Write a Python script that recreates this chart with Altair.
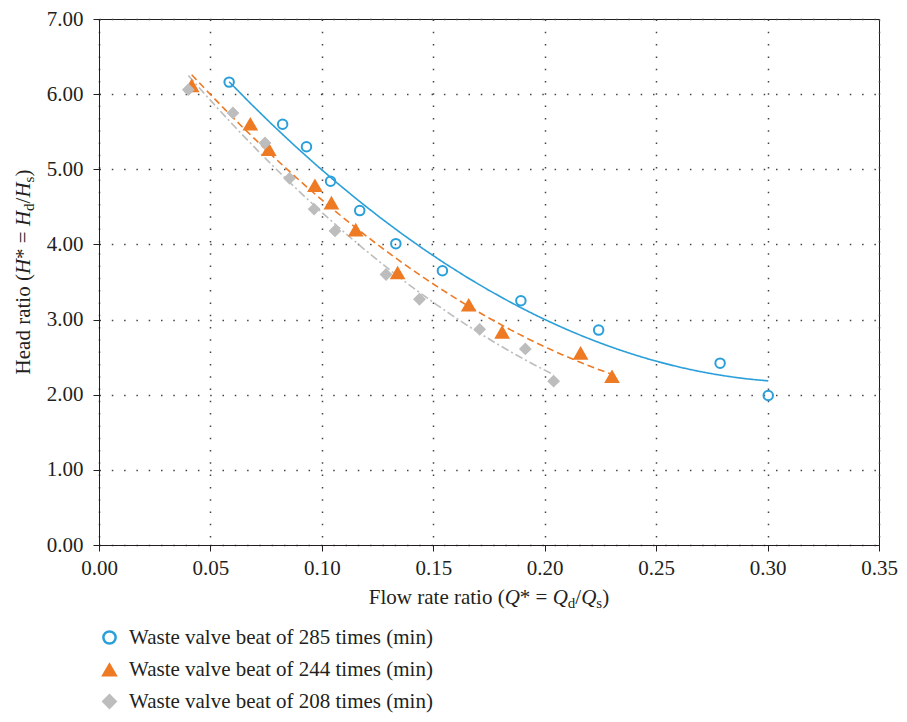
import altair as alt
import pandas as pd

# ---------------- data ----------------
series_names = [
    "Waste valve beat of 285 times (min)",
    "Waste valve beat of 244 times (min)",
    "Waste valve beat of 208 times (min)",
]
q285 = [0.0584, 0.0824, 0.0931, 0.1039, 0.1170, 0.1332, 0.1541, 0.1893, 0.2242, 0.2787, 0.3003]
h285 = [6.16, 5.60, 5.30, 4.84, 4.45, 4.01, 3.65, 3.25, 2.86, 2.42, 1.99]
q244 = [0.0416, 0.0679, 0.0762, 0.0969, 0.1043, 0.1152, 0.1340, 0.1659, 0.1809, 0.2161, 0.2302]
h244 = [6.11, 5.60, 5.26, 4.78, 4.55, 4.19, 3.62, 3.19, 2.83, 2.55, 2.24]
q208 = [0.0401, 0.0601, 0.0745, 0.0855, 0.0965, 0.1059, 0.1288, 0.1438, 0.1708, 0.1913, 0.2040]
h208 = [6.06, 5.75, 5.35, 4.88, 4.47, 4.18, 3.60, 3.27, 2.87, 2.61, 2.18]

x_ticks = [0.0, 0.05, 0.10, 0.15, 0.20, 0.25, 0.30, 0.35]
y_ticks = [0, 1, 2, 3, 4, 5, 6, 7]

rows = []
for name, qs, hs in zip(series_names, [q285, q244, q208], [h285, h244, h208]):
    for q, h in zip(qs, hs):
        rows.append({"series": name, "Q": q, "H": h})
df = pd.DataFrame(rows)

# ---------------- style ----------------
W, H = 780, 526
PAD_L, PAD_T = 91, 11
FONT = "Liberation Serif"
FS = 21
TXT = "#231f20"
colors = ["#2A9FD9", "#EE7A24", "#BDBDBD"]
fills = ["transparent", "#EE7A24", "#BDBDBD"]
shapes = ["circle", "triangle-up", "diamond"]
sizes = [90, 150, 100]
dashes = [[1, 0], [7, 4], [8, 3, 2, 3]]

xsc = alt.Scale(domain=[0, 0.35], nice=False, zero=False)
ysc = alt.Scale(domain=[0, 7], nice=False, zero=False)

legend = alt.Legend(
    title=None, orient="none", legendX=0, legendY=608, direction="vertical",
    labelFont=FONT, labelFontSize=FS, labelColor=TXT, symbolSize=150,
    symbolStrokeWidth=2.5, rowPadding=9.5, labelOffset=9, padding=0, labelLimit=400,
)

x_axis = alt.Axis(values=x_ticks, format=".2f", title=None, labelPadding=6, labelFlush=False)
y_axis = alt.Axis(values=y_ticks, format=".2f", title=None, labelPadding=10, labelFlush=False)

lines = []
for name, col, dash in zip(series_names, colors, dashes):
    lines.append(
        alt.Chart(df)
        .transform_filter(alt.datum.series == name)
        .transform_regression("Q", "H", method="poly", order=2)
        .mark_line(color=col, strokeWidth=1.6, strokeDash=dash)
        .encode(x=alt.X("Q:Q", scale=xsc, axis=x_axis), y=alt.Y("H:Q", scale=ysc, axis=y_axis))
    )

point_layers = []
for name, sz in zip(series_names, sizes):
    point_layers.append(
        alt.Chart(df)
        .transform_filter(alt.datum.series == name)
        .mark_point(strokeWidth=2, opacity=1, size=sz)
        .encode(
            x=alt.X("Q:Q", scale=xsc, axis=x_axis),
            y=alt.Y("H:Q", scale=ysc, axis=y_axis),
            shape=alt.Shape("series:N", scale=alt.Scale(domain=series_names, range=shapes), legend=legend),
            stroke=alt.Stroke("series:N", scale=alt.Scale(domain=series_names, range=colors), legend=legend),
            fill=alt.Fill("series:N", scale=alt.Scale(domain=series_names, range=fills), legend=legend),
        )
    )

# ---------------- titles with italic / subscript pieces ----------------
REG = {' ': 250, '(': 333, ')': 333, '*': 500, '=': 564, '/': 278, 'F': 556, 'H': 722,
       'Q': 722, 'a': 444, 'd': 500, 'e': 444, 'i': 278, 'l': 278, 'o': 500, 'r': 333,
       's': 389, 't': 278, 'w': 722}
SUB = 15


def text_w(t, size):
    return sum(REG.get(c, 500) for c in t) * size / 1000.0


def build_pieces(lead, sym):
    # (text, italic, size, dy, spaces after)
    return [
        (lead, False, FS, 0, 0),
        (sym, True, FS, 0, 0),
        ("*", False, FS, 0, 1),
        ("=", False, FS, 0, 1),
        (sym, True, FS, 0, 0),
        ("d", False, SUB, 4, 0),
        ("/", False, FS, 0, 0),
        (sym, True, FS, 0, 0),
        ("s", False, SUB, 4, 0),
        (")", False, FS, 0, 0),
    ]


def title_layers(pieces, anchor_x, anchor_y, angle, center_along):
    offs = []
    cum = 0.0
    for t, it, sz, dy, sa in pieces:
        offs.append(cum)
        cum += text_w(t, sz) + sa * text_w(" ", FS)
    total = cum
    layers = []
    base = alt.Chart(pd.DataFrame({"a": [0]}))
    for (t, it, sz, dy, sa), o in zip(pieces, offs):
        if angle == 0:
            ax, ay = center_along - total / 2.0, anchor_y
        else:
            ax, ay = anchor_x, center_along + total / 2.0
        layers.append(
            base.mark_text(text=t, font=FONT, fontSize=sz, fontStyle="italic" if it else "normal",
                           align="left", baseline="alphabetic", color=TXT, angle=angle,
                           dx=o, dy=dy)
            .encode(x=alt.value(ax), y=alt.value(ay))
        )
    return layers


xt = title_layers(build_pieces("Flow rate ratio (", "Q"), None, 585, 0, W / 2.0)
yt = title_layers(build_pieces("Head ratio (", "H"), -69, None, 270, 253)

chart = alt.layer(*lines, *point_layers, *xt, *yt).properties(
    width=W, height=H,
    autosize=alt.AutoSizeParams(type="none"),
    padding={"left": PAD_L, "top": PAD_T, "right": 891 - PAD_L - W, "bottom": 706 - PAD_T - H},
).configure_view(
    stroke=TXT, strokeWidth=1,
).configure_axis(
    labelFont=FONT, labelFontSize=FS, labelColor=TXT,
    domainColor=TXT, tickColor=TXT, tickSize=6, grid=True,
    gridColor="#444", gridDash=[1.5, 10.8], gridWidth=1.5,
)

chart.save("out.html", embed_options={"renderer": "svg", "actions": False})
